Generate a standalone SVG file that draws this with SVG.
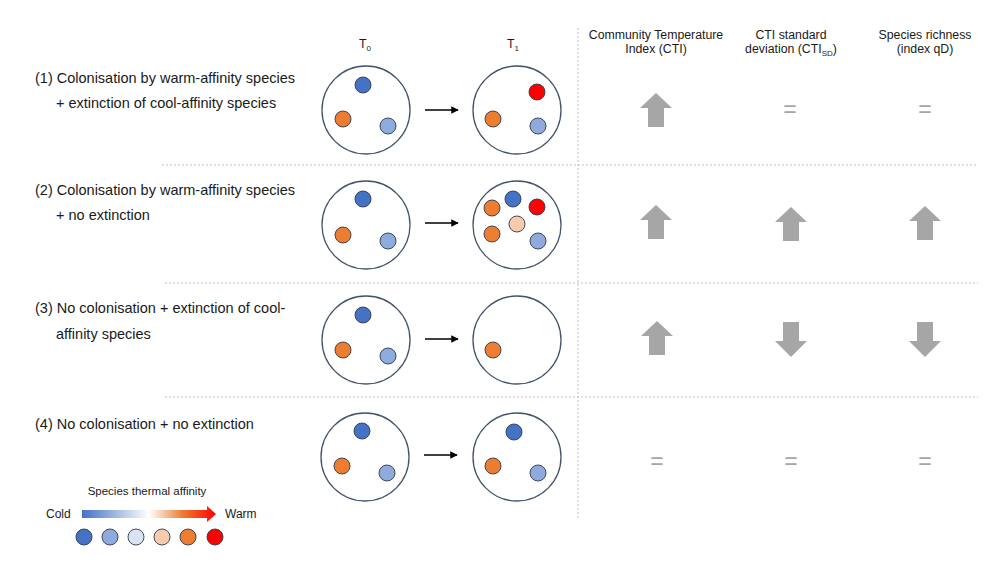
<svg xmlns="http://www.w3.org/2000/svg" width="1000" height="563" viewBox="0 0 1000 563">
<defs>
<style>
text{font-family:"Liberation Sans",Arial,sans-serif;fill:#1a1a1a}
.lbl{font-size:14.5px}
.hd{font-size:12.3px;text-anchor:middle}
.eq{font-size:23px;text-anchor:middle;fill:#a6a6a6}
.big{fill:#fff;stroke:#44546a;stroke-width:1.3}
.d{stroke:#2f3b4c;stroke-width:0.9}
.c1{fill:#4472c4}.c2{fill:#8faadc}.c3{fill:#dae3f3}.c4{fill:#f8cbad}.c5{fill:#ed7d31}.c6{fill:#ff0000}
.sep{stroke:#bfbfbf;stroke-width:1;stroke-dasharray:2 2;fill:none}
.conn{stroke:#000;stroke-width:1.5;fill:none}
.ga{fill:#a6a6a6}
</style>
<marker id="ah" viewBox="0 0 10 10" refX="9" refY="5" markerWidth="5" markerHeight="5" orient="auto" markerUnits="strokeWidth">
<path d="M0,0 L10,5 L0,10 z" fill="#000"/>
</marker>
<linearGradient id="grad" x1="0" x2="1" y1="0" y2="0">
<stop offset="0" stop-color="#4472c4"/>
<stop offset="0.5" stop-color="#ffffff"/>
<stop offset="0.75" stop-color="#ed7d31"/>
<stop offset="1" stop-color="#ff0000"/>
</linearGradient>
<path id="up" d="M0,0 L16,15 L8,15 L8,34 L-8,34 L-8,15 L-16,15 z"/>
<path id="down" d="M-8,0 L8,0 L8,19 L16,19 L0,35 L-16,19 L-8,19 z"/>
</defs>
<rect width="1000" height="563" fill="#fff"/>

<g id="separators">
<line class="sep" x1="578" y1="28" x2="578" y2="520"/>
<line class="sep" x1="162" y1="165" x2="978" y2="165"/>
<line class="sep" x1="165" y1="283" x2="978" y2="283"/>
<line class="sep" x1="165" y1="397" x2="978" y2="397"/>
</g>

<g id="headers">
<text class="hd" x="365" y="48">T<tspan font-size="8" dy="3">0</tspan></text>
<text class="hd" x="513" y="48">T<tspan font-size="8" dy="3">1</tspan></text>
<text class="hd" x="656" y="39">Community Temperature</text>
<text class="hd" x="656" y="53">Index (CTI)</text>
<text class="hd" x="791" y="39">CTI standard</text>
<text class="hd" x="791" y="53">deviation (CTI<tspan font-size="8" dy="3">SD</tspan><tspan dy="-3">)</tspan></text>
<text class="hd" x="925" y="39">Species richness</text>
<text class="hd" x="925" y="53">(index qD)</text>
</g>

<g id="row1-label"><text class="lbl" x="35" y="83">(1) Colonisation by warm-affinity species</text><text class="lbl" x="56" y="108">+ extinction of cool-affinity species</text></g>
<g id="row2-label"><text class="lbl" x="35" y="195">(2) Colonisation by warm-affinity species</text><text class="lbl" x="56" y="220">+ no extinction</text></g>
<g id="row3-label"><text class="lbl" x="35" y="313">(3) No colonisation + extinction of cool-</text><text class="lbl" x="56" y="339">affinity species</text></g>
<g id="row4-label"><text class="lbl" x="35" y="429">(4) No colonisation + no extinction</text></g>

<g id="row1-t0"><circle class="big" cx="366" cy="110" r="44"/>
<circle class="d c1" cx="363" cy="85" r="8"/><circle class="d c5" cx="343" cy="119" r="8"/><circle class="d c2" cx="388" cy="126" r="8"/></g>
<g id="row1-t1"><circle class="big" cx="517" cy="110" r="44"/>
<circle class="d c6" cx="537" cy="92" r="8"/><circle class="d c5" cx="493" cy="119" r="8"/><circle class="d c2" cx="538" cy="126" r="8"/></g>

<g id="row2-t0"><circle class="big" cx="366" cy="225" r="44"/>
<circle class="d c1" cx="363" cy="199" r="8"/><circle class="d c5" cx="343" cy="235" r="8"/><circle class="d c2" cx="388" cy="241" r="8"/></g>
<g id="row2-t1"><circle class="big" cx="517" cy="225" r="44"/>
<circle class="d c5" cx="492" cy="208" r="8"/><circle class="d c1" cx="513" cy="199" r="8"/><circle class="d c6" cx="537" cy="207" r="8"/><circle class="d c4" cx="517" cy="224" r="8"/><circle class="d c5" cx="492" cy="234" r="8"/><circle class="d c2" cx="538" cy="241" r="8"/></g>

<g id="row3-t0"><circle class="big" cx="366" cy="340" r="44"/>
<circle class="d c1" cx="363" cy="315" r="8"/><circle class="d c5" cx="343" cy="350" r="8"/><circle class="d c2" cx="388" cy="356" r="8"/></g>
<g id="row3-t1"><circle class="big" cx="517" cy="340" r="44"/>
<circle class="d c5" cx="493" cy="350" r="8"/></g>

<g id="row4-t0"><circle class="big" cx="365" cy="457" r="44"/>
<circle class="d c1" cx="362" cy="431" r="8"/><circle class="d c5" cx="342" cy="466" r="8"/><circle class="d c2" cx="387" cy="473" r="8"/></g>
<g id="row4-t1"><circle class="big" cx="517" cy="457" r="44"/>
<circle class="d c1" cx="514" cy="432" r="8"/><circle class="d c5" cx="493" cy="466" r="8"/><circle class="d c2" cx="538" cy="473" r="8"/></g>

<g id="connectors">
<line class="conn" x1="425" y1="110" x2="458" y2="110" marker-end="url(#ah)"/>
<line class="conn" x1="425" y1="223" x2="458" y2="223" marker-end="url(#ah)"/>
<line class="conn" x1="425" y1="339" x2="458" y2="339" marker-end="url(#ah)"/>
<line class="conn" x1="424" y1="455" x2="457" y2="455" marker-end="url(#ah)"/>
</g>

<g id="results">
<use href="#up" class="ga" x="656" y="93"/>
<text class="eq" x="790" y="117">=</text>
<text class="eq" x="925" y="117">=</text>
<use href="#up" class="ga" x="656" y="205"/>
<use href="#up" class="ga" x="791" y="207"/>
<use href="#up" class="ga" x="925" y="206"/>
<use href="#up" class="ga" x="657" y="321"/>
<use href="#down" class="ga" x="791" y="322"/>
<use href="#down" class="ga" x="925" y="322"/>
<text class="eq" x="657" y="469">=</text>
<text class="eq" x="791" y="469">=</text>
<text class="eq" x="925" y="469">=</text>
</g>

<g id="legend">
<text x="147" y="495" font-size="11.5" text-anchor="middle">Species thermal affinity</text>
<text x="46" y="518" font-size="12">Cold</text>
<text x="225" y="518" font-size="12">Warm</text>
<path d="M82,510 L207,510 L207,506 L216,514 L207,522 L207,518 L82,518 z" fill="url(#grad)"/>
<circle class="d c1" cx="84" cy="537" r="8"/>
<circle class="d c2" cx="110" cy="537" r="8"/>
<circle class="d c3" cx="136" cy="537" r="8"/>
<circle class="d c4" cx="162" cy="537" r="8"/>
<circle class="d c5" cx="188" cy="537" r="8"/>
<circle class="d c6" cx="215" cy="537" r="8"/>
</g>
</svg>
